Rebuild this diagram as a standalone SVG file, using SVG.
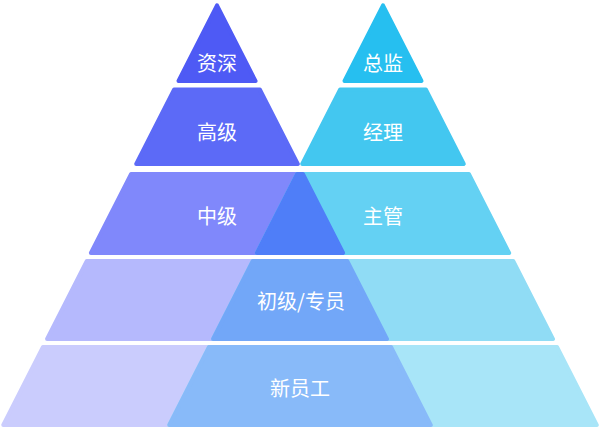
<svg xmlns="http://www.w3.org/2000/svg" width="600" height="427" viewBox="0 0 600 427">
<style>
  .t { stroke-width: 4; stroke-linejoin: round; }
  .lbl { font-family: "Noto Sans CJK SC", "Noto Sans", sans-serif; font-size: 20px; fill: #ffffff; text-anchor: middle; dominant-baseline: central; }
  .l1 { fill: #4e5af5; stroke: #4e5af5; }
  .l2 { fill: #5c6af7; stroke: #5c6af7; }
  .l3 { fill: #8088fb; stroke: #8088fb; }
  .l4 { fill: #b5b9fd; stroke: #b5b9fd; }
  .l5 { fill: #caccfd; stroke: #caccfd; }
  .r1 { fill: #26bff0; stroke: #26bff0; }
  .r2 { fill: #43c7f0; stroke: #43c7f0; }
  .r3 { fill: #64d1f3; stroke: #64d1f3; }
  .r4 { fill: #90dcf5; stroke: #90dcf5; }
  .r5 { fill: #a8e5f8; stroke: #a8e5f8; }
  .o3 { fill: #4f7ef8; stroke: #4f7ef8; }
  .o4 { fill: #72a7f8; stroke: #72a7f8; }
  .o5 { fill: #88baf9; stroke: #88baf9; }
</style>
<rect width="600" height="427" fill="#ffffff"/>
<g id="left-1">
  <polygon class="t l1" points="217,5.4 255.51,81 178.49,81"/>
  <text class="lbl" x="217" y="62.5">资深</text>
</g>
<g id="right-1">
  <polygon class="t r1" points="383,5.4 421.51,81 344.49,81"/>
  <text class="lbl" x="383" y="62.5">总监</text>
</g>
<g id="left-2">
  <polygon class="t l2" points="174.16,89.5 259.84,89.5 297.79,164 136.21,164"/>
  <text class="lbl" x="217" y="131">高级</text>
</g>
<g id="right-2">
  <polygon class="t r2" points="340.16,89.5 425.84,89.5 463.79,164 302.21,164"/>
  <text class="lbl" x="383" y="131">经理</text>
</g>
<g id="left-3">
  <polygon class="t l3" points="131.12,174 302.88,174 343.13,253 90.87,253"/>
</g>
<g id="right-3">
  <polygon class="t r3" points="297.12,174 468.88,174 509.13,253 256.87,253"/>
</g>
<g id="overlap-3">
  <polygon class="t o3" points="297.12,174 302.88,174 343.13,253 256.87,253"/>
</g>
<g id="label-3">
  <text class="lbl" x="217" y="215">中级</text>
  <text class="lbl" x="383" y="215">主管</text>
</g>
<g id="left-4">
  <polygon class="t l4" points="86.8,261 347.2,261 386.93,339 47.07,339"/>
</g>
<g id="right-4">
  <polygon class="t r4" points="252.8,261 513.2,261 552.93,339 213.07,339"/>
</g>
<g id="overlap-4">
  <polygon class="t o4" points="252.8,261 347.2,261 386.93,339 213.07,339"/>
  <text class="lbl" x="301" y="300.5">初级/专员</text>
</g>
<g id="left-5">
  <polygon class="t l5" points="42.99,347 391.01,347 430.74,425 3.26,425"/>
</g>
<g id="right-5">
  <polygon class="t r5" points="208.99,347 557.01,347 596.74,425 169.26,425"/>
</g>
<g id="overlap-5">
  <polygon class="t o5" points="208.99,347 391.01,347 430.74,425 169.26,425"/>
  <text class="lbl" x="300" y="387">新员工</text>
</g>
<g id="connectors"/>
</svg>
